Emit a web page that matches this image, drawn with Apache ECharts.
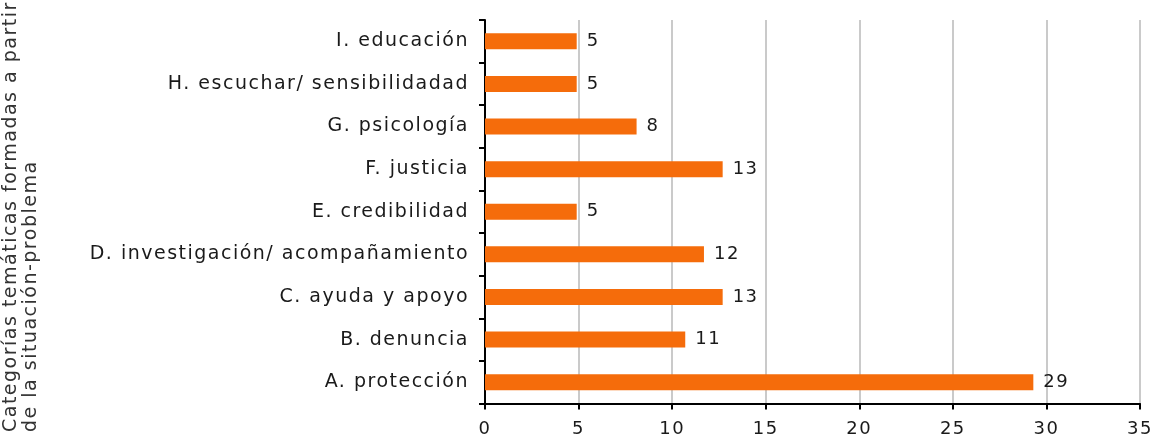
<!DOCTYPE html>
<html>
<head>
<meta charset="utf-8">
<script src="https://cdn.jsdelivr.net/npm/echarts@6/dist/echarts.min.js"></script>
<style>
html,body{margin:0;padding:0;background:#fff;}
#chart{width:1161px;height:439px;}
</style>
</head>
<body>
<div id="chart"></div>
<script>
// Categories listed bottom to top
var categories = [
  "A. protección",
  "B. denuncia",
  "C. ayuda y apoyo",
  "D. investigación/ acompañamiento",
  "E. credibilidad",
  "F. justicia",
  "G. psicología",
  "H. escuchar/ sensibilidadad",
  "I. educación"
];
// Bar lengths (percent shares)
var values = [29.3, 10.7, 12.7, 11.7, 4.9, 12.7, 8.1, 4.9, 4.9];
// Data labels as printed
var labels = [29, 11, 13, 12, 5, 13, 8, 5, 5];
var xTicks = [0, 5, 10, 15, 20, 25, 30, 35];
var yTitle = "Categorías temáticas formadas a partir\nde la situación-problema";

// The reference text is set with wide character spacing; apply it to every 2D canvas context.
(function () {
  var orig = HTMLCanvasElement.prototype.getContext;
  HTMLCanvasElement.prototype.getContext = function (type, opts) {
    var ctx = orig.call(this, type, opts);
    if (ctx && type === '2d' && ('letterSpacing' in ctx)) { ctx.letterSpacing = '1.5px'; }
    return ctx;
  };
})();

var FONT = "DejaVu Sans";
var chart = echarts.init(document.getElementById('chart'), null, {renderer: 'canvas'});
chart.setOption({
  animation: false,
  backgroundColor: '#ffffff',
  grid: {left: 485, right: 21, top: 20, bottom: 35, containLabel: false},
  xAxis: {
    type: 'value',
    min: xTicks[0],
    max: xTicks[xTicks.length - 1],
    interval: 5,
    axisLine: {show: true, lineStyle: {color: '#000', width: 2}},
    axisTick: {show: true, length: 6, lineStyle: {color: '#000', width: 2}},
    axisLabel: {color: '#1a1a1a', fontFamily: FONT, fontSize: 18, margin: 16},
    splitLine: {show: true, lineStyle: {color: '#b8b8b8', width: 1.5}}
  },
  yAxis: {
    type: 'category',
    data: categories,
    axisLine: {show: true, lineStyle: {color: '#000', width: 2}},
    axisTick: {show: true, length: 6, lineStyle: {color: '#000', width: 2}},
    axisLabel: {color: '#1a1a1a', fontFamily: FONT, fontSize: 19, margin: 16},
    splitLine: {show: false}
  },
  graphic: [{
    type: 'text',
    left: 1,
    bottom: 7,
    rotation: Math.PI / 2,
    style: {
      text: yTitle,
      fill: '#333',
      font: '19px "' + FONT + '"',
      lineHeight: 20,
      textAlign: 'left',
      textVerticalAlign: 'top'
    }
  }],
  series: [{
    type: 'bar',
    data: values,
    barWidth: 16,
    itemStyle: {color: '#f56c0b'},
    label: {
      show: true,
      position: 'right',
      distance: 10,
      color: '#1a1a1a',
      fontFamily: FONT,
      fontSize: 18,
      formatter: function (p) { return String(labels[p.dataIndex]); }
    }
  }]
});
</script>
</body>
</html>
